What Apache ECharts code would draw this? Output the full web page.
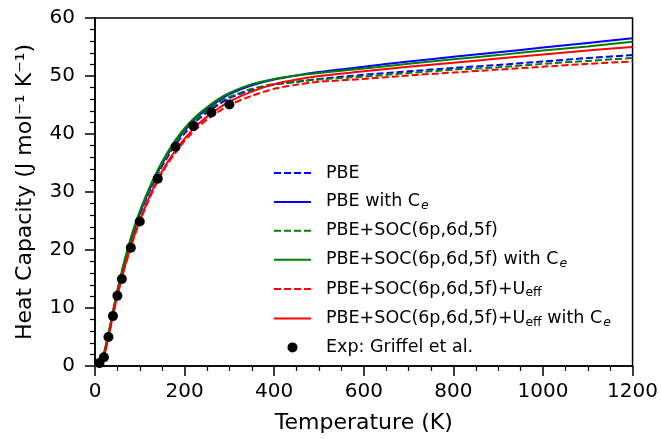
<!DOCTYPE html>
<html>
<head>
<meta charset="utf-8">
<script src="https://cdn.jsdelivr.net/npm/echarts@6/dist/echarts.min.js"></script>
<style>html,body{margin:0;padding:0;background:#fff;}#c{width:661px;height:439px;}</style>
</head>
<body>
<div id="c"></div>
<script>
// Temperature grid (K)
var T = [0,10,20,30,40,50,60,70,80,90,100,120,140,160,180,200,225,250,275,300,350,400,450,500,600,700,800,900,1000,1100,1200];
// Heat capacity (J mol^-1 K^-1)
var pbe       = [0,0.5,2.1,5.2,8.9,12.6,15.9,18.8,21.5,23.9,26.1,29.8,33.1,35.8,38.2,40.1,42.2,43.7,45.0,46.2,47.6,48.5,49.0,49.5,50.2,50.8,51.4,51.9,52.5,53.1,53.6];
var pbeCe     = [0,0.5,2.1,5.3,9.0,12.7,16.0,19.0,21.7,24.1,26.3,30.1,33.4,36.2,38.6,40.6,42.7,44.3,45.7,46.9,48.4,49.4,50.1,50.7,51.6,52.5,53.3,54.1,54.9,55.7,56.5];
var soc       = [0,0.6,2.2,5.5,9.3,13.0,16.3,19.2,21.9,24.3,26.5,30.2,33.5,36.2,38.6,40.5,42.5,44.0,45.4,46.4,47.8,48.6,49.0,49.4,49.9,50.5,51.1,51.5,52.1,52.6,53.1];
var socCe     = [0,0.6,2.3,5.6,9.4,13.1,16.4,19.4,22.1,24.5,26.7,30.5,33.8,36.6,39.0,41.0,43.0,44.6,46.0,47.1,48.6,49.5,50.1,50.5,51.3,52.1,52.9,53.6,54.4,55.1,55.9];
var socU      = [0,0.3,1.7,4.9,8.6,12.1,15.2,17.9,20.5,22.8,24.9,28.6,31.9,34.6,36.8,38.8,40.8,42.5,43.8,45.0,46.6,47.8,48.5,49.0,49.5,50.1,50.6,51.1,51.6,52.1,52.5];
var socUCe    = [0,0.3,1.7,5.0,8.7,12.2,15.3,18.1,20.7,23.0,25.1,28.9,32.2,34.9,37.2,39.2,41.3,43.0,44.4,45.6,47.3,48.6,49.4,50.0,50.8,51.6,52.3,53.0,53.7,54.4,55.0];
// Experiment: Griffel et al.
var expT = [10,20,30,40,50,60,80,100,140,180,220,260,300];
var expC = [0.5,1.5,5.0,8.6,12.1,15.0,20.4,24.9,32.3,37.8,41.4,43.7,45.1];
// Axis ticks
var xTicks = [0,200,400,600,800,1000,1200];
var yTicks = [0,10,20,30,40,50,60];

var names = ['PBE','PBE with Ce','PBE+SOC(6p,6d,5f)','PBE+SOC(6p,6d,5f) with Ce','PBE+SOC(6p,6d,5f)+Ueff','PBE+SOC(6p,6d,5f)+Ueff with Ce','Exp: Griffel et al.'];
var labels = {
  'PBE': '{n|PBE}',
  'PBE with Ce': '{n|PBE with C}{s|e}',
  'PBE+SOC(6p,6d,5f)': '{n|PBE+SOC(6p,6d,5f)}',
  'PBE+SOC(6p,6d,5f) with Ce': '{n|PBE+SOC(6p,6d,5f) with C}{s|e}',
  'PBE+SOC(6p,6d,5f)+Ueff': '{n|PBE+SOC(6p,6d,5f)+U}{u|eff}',
  'PBE+SOC(6p,6d,5f)+Ueff with Ce': '{n|PBE+SOC(6p,6d,5f)+U}{u|eff}{n| with C}{s|e}',
  'Exp: Griffel et al.': '{n|Exp: Griffel et al.}'
};
function pairs(xs, ys){ return xs.map(function(x,i){ return [x, ys[i]]; }); }
var FONT = 'DejaVu Sans';
function lineSeries(name, ys, color, dashed){
  return {
    name: name, type: 'line', data: pairs(T, ys),
    showSymbol: false, symbol: 'none', smooth: 0.25,
    lineStyle: {color: color, width: 2, type: dashed ? [7,3] : 'solid'},
    itemStyle: {color: color},
    animation: false
  };
}
var chart = echarts.init(document.getElementById('c'), null, {renderer: 'canvas'});
chart.setOption({
  animation: false,
  backgroundColor: '#fff',
  textStyle: {fontFamily: FONT},
  grid: {left: 95, right: 28, top: 18, bottom: 72, show: true, borderColor: '#000', borderWidth: 1.5, backgroundColor: 'transparent'},
  xAxis: {
    type: 'value', min: 0, max: 1200, interval: 200,
    name: 'Temperature (K)', nameLocation: 'middle', nameGap: 46,
    nameTextStyle: {fontSize: 22, color: '#000', fontFamily: FONT},
    axisLine: {show: true, lineStyle: {color: '#000', width: 1.5}},
    axisTick: {show: true, inside: false, length: 10, lineStyle: {color: '#000', width: 1.5}},
    minorTick: {show: true, splitNumber: 4, length: 5, lineStyle: {color: '#000', width: 1.2}},
    axisLabel: {fontSize: 20, color: '#000', margin: 16, fontFamily: FONT,
      formatter: function(v){ return xTicks.indexOf(v) >= 0 ? String(v) : ''; }},
    splitLine: {show: false}
  },
  yAxis: {
    type: 'value', min: 0, max: 60, interval: 10,
    name: 'Heat Capacity (J mol\u207B\u00B9 K\u207B\u00B9)', nameLocation: 'middle', nameGap: 59,
    nameTextStyle: {fontSize: 22, color: '#000', fontFamily: FONT},
    axisLine: {show: true, lineStyle: {color: '#000', width: 1.5}},
    axisTick: {show: true, inside: false, length: 10, lineStyle: {color: '#000', width: 1.5}},
    minorTick: {show: true, splitNumber: 5, length: 5, lineStyle: {color: '#000', width: 1.2}},
    axisLabel: {fontSize: 20, color: '#000', margin: 20, fontFamily: FONT,
      formatter: function(v){ return yTicks.indexOf(v) >= 0 ? String(v) : ''; }},
    splitLine: {show: false}
  },
  legend: {
    orient: 'vertical', left: 268, top: 158,
    itemWidth: 37, itemHeight: 10, itemGap: 8.4,
    data: names.map(function(n){
      return n === 'Exp: Griffel et al.'
        ? {name: n, icon: 'circle', itemStyle: {opacity: 1}}
        : {name: n, itemStyle: {opacity: 0}};
    }),
    formatter: function(n){ return labels[n]; },
    textStyle: {
      fontFamily: FONT, color: '#000', fontSize: 17.5, lineHeight: 20, padding: [0,0,0,10],
      rich: {
        n: {fontSize: 17.5, lineHeight: 20, color: '#000', fontFamily: FONT},
        s: {fontSize: 12.5, lineHeight: 20, fontStyle: 'italic', color: '#000', fontFamily: FONT, padding: [8,0,0,1]},
        u: {fontSize: 12.5, lineHeight: 20, color: '#000', fontFamily: FONT, padding: [8,0,0,0]}
      }
    }
  },
  series: [
    lineSeries('PBE', pbe, '#0000ff', true),
    lineSeries('PBE with Ce', pbeCe, '#0000ff', false),
    lineSeries('PBE+SOC(6p,6d,5f)', soc, '#008000', true),
    lineSeries('PBE+SOC(6p,6d,5f) with Ce', socCe, '#008000', false),
    lineSeries('PBE+SOC(6p,6d,5f)+Ueff', socU, '#ff0000', true),
    lineSeries('PBE+SOC(6p,6d,5f)+Ueff with Ce', socUCe, '#ff0000', false),
    {name: 'Exp: Griffel et al.', type: 'scatter', data: pairs(expT, expC), symbol: 'circle', symbolSize: 10,
     itemStyle: {color: '#000', opacity: 1}, z: 5, animation: false}
  ]
});
</script>
</body>
</html>
